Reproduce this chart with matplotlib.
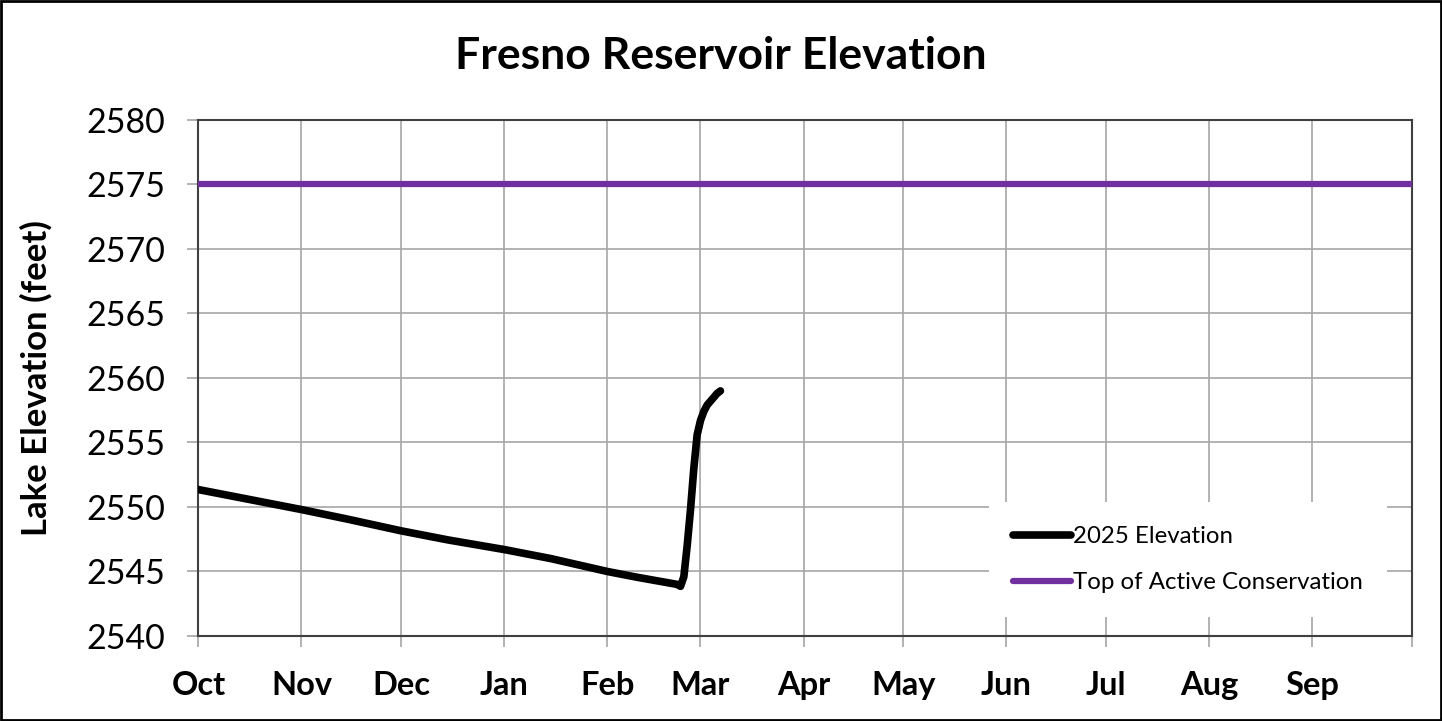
"""
Fresno Reservoir elevation chart, water year Oct-Sep.
"""
import numpy as np
import pandas as pd
import matplotlib
matplotlib.use("Agg")
import matplotlib.pyplot as plt

plt.rcParams['font.family'] = ['Lato', 'DejaVu Sans']

# 2025 elevation readings
elev_dates = ['2024-10-01', '2024-10-15', '2024-11-01', '2024-11-15', '2024-12-01',
              '2024-12-15', '2025-01-01', '2025-01-15', '2025-02-01', '2025-02-10',
              '2025-02-22', '2025-02-23', '2025-02-24', '2025-02-25', '2025-02-26',
              '2025-02-27', '2025-02-28', '2025-03-01', '2025-03-02', '2025-03-03',
              '2025-03-04', '2025-03-05', '2025-03-06', '2025-03-07']
elev_values = [2551.35, 2550.65, 2549.8, 2549.05, 2548.15,
               2547.45, 2546.7, 2546.0, 2545.0, 2544.55,
               2544.0, 2543.85, 2544.6, 2547.0, 2549.8,
               2553.0, 2555.6, 2556.7, 2557.4, 2557.9,
               2558.2, 2558.5, 2558.8, 2559.0]

# top of active conservation pool
tac_dates = ['2024-10-01', '2025-10-01']
tac_values = [2575, 2575]

month_labels = ['Oct', 'Nov', 'Dec', 'Jan', 'Feb', 'Mar',
                'Apr', 'May', 'Jun', 'Jul', 'Aug', 'Sep']

elev_dates = pd.to_datetime(elev_dates)
tac_dates = pd.to_datetime(tac_dates)

fig = plt.figure(figsize=(14.42, 7.21), dpi=100)
ax = fig.add_axes([0.1376, 0.1179, 0.8416, 0.7157])

ax.plot(elev_dates, elev_values, color='black', lw=5.5, solid_capstyle='round',
        solid_joinstyle='round', label='2025 Elevation', zorder=3)
ax.plot(tac_dates, tac_values, color='#7030A0', lw=4.5, solid_capstyle='round',
        label='Top of Active Conservation', zorder=3)

ax.set_xlim(pd.Timestamp('2024-10-01'), pd.Timestamp('2025-10-01'))
ax.set_ylim(2540, 2580)
ax.set_yticks(np.arange(2540, 2581, 5))

month_starts = pd.date_range('2024-10-01', '2025-10-01', freq='MS')
ax.set_xticks(month_starts)
ax.set_xticklabels(month_labels + [''], fontweight='bold', fontsize=23.5)
ax.tick_params(axis='y', labelsize=24.5)
ax.tick_params(axis='both', direction='out', length=8, width=1.2, color='#a6a6a6')
ax.tick_params(axis='x', pad=17)
ax.tick_params(axis='y', pad=16)

ax.grid(True, color='#a6a6a6', lw=1.2)
ax.set_axisbelow(True)
for s in ax.spines.values():
    s.set_color('#404040')
    s.set_linewidth(1.5)

ax.set_ylabel('Lake Elevation (feet)', fontsize=25, fontweight='bold', labelpad=24)
fig.text(0.5, 0.922, 'Fresno Reservoir Elevation', ha='center', va='center',
         fontsize=32, fontweight='bold')

leg = ax.legend(loc='lower right', bbox_to_anchor=(0.9895, 0.013), frameon=True,
                fancybox=False, edgecolor='none', facecolor='white', framealpha=1,
                fontsize=17.3, handlelength=2.4, handletextpad=0.1, labelspacing=1.05,
                borderpad=1.0)

# outer border around whole figure
fig.patches.append(plt.Rectangle((0.001, 0.001), 0.998, 0.998, transform=fig.transFigure,
                                 fill=False, edgecolor='black', lw=2))

fig.savefig('out.png', dpi=100)
